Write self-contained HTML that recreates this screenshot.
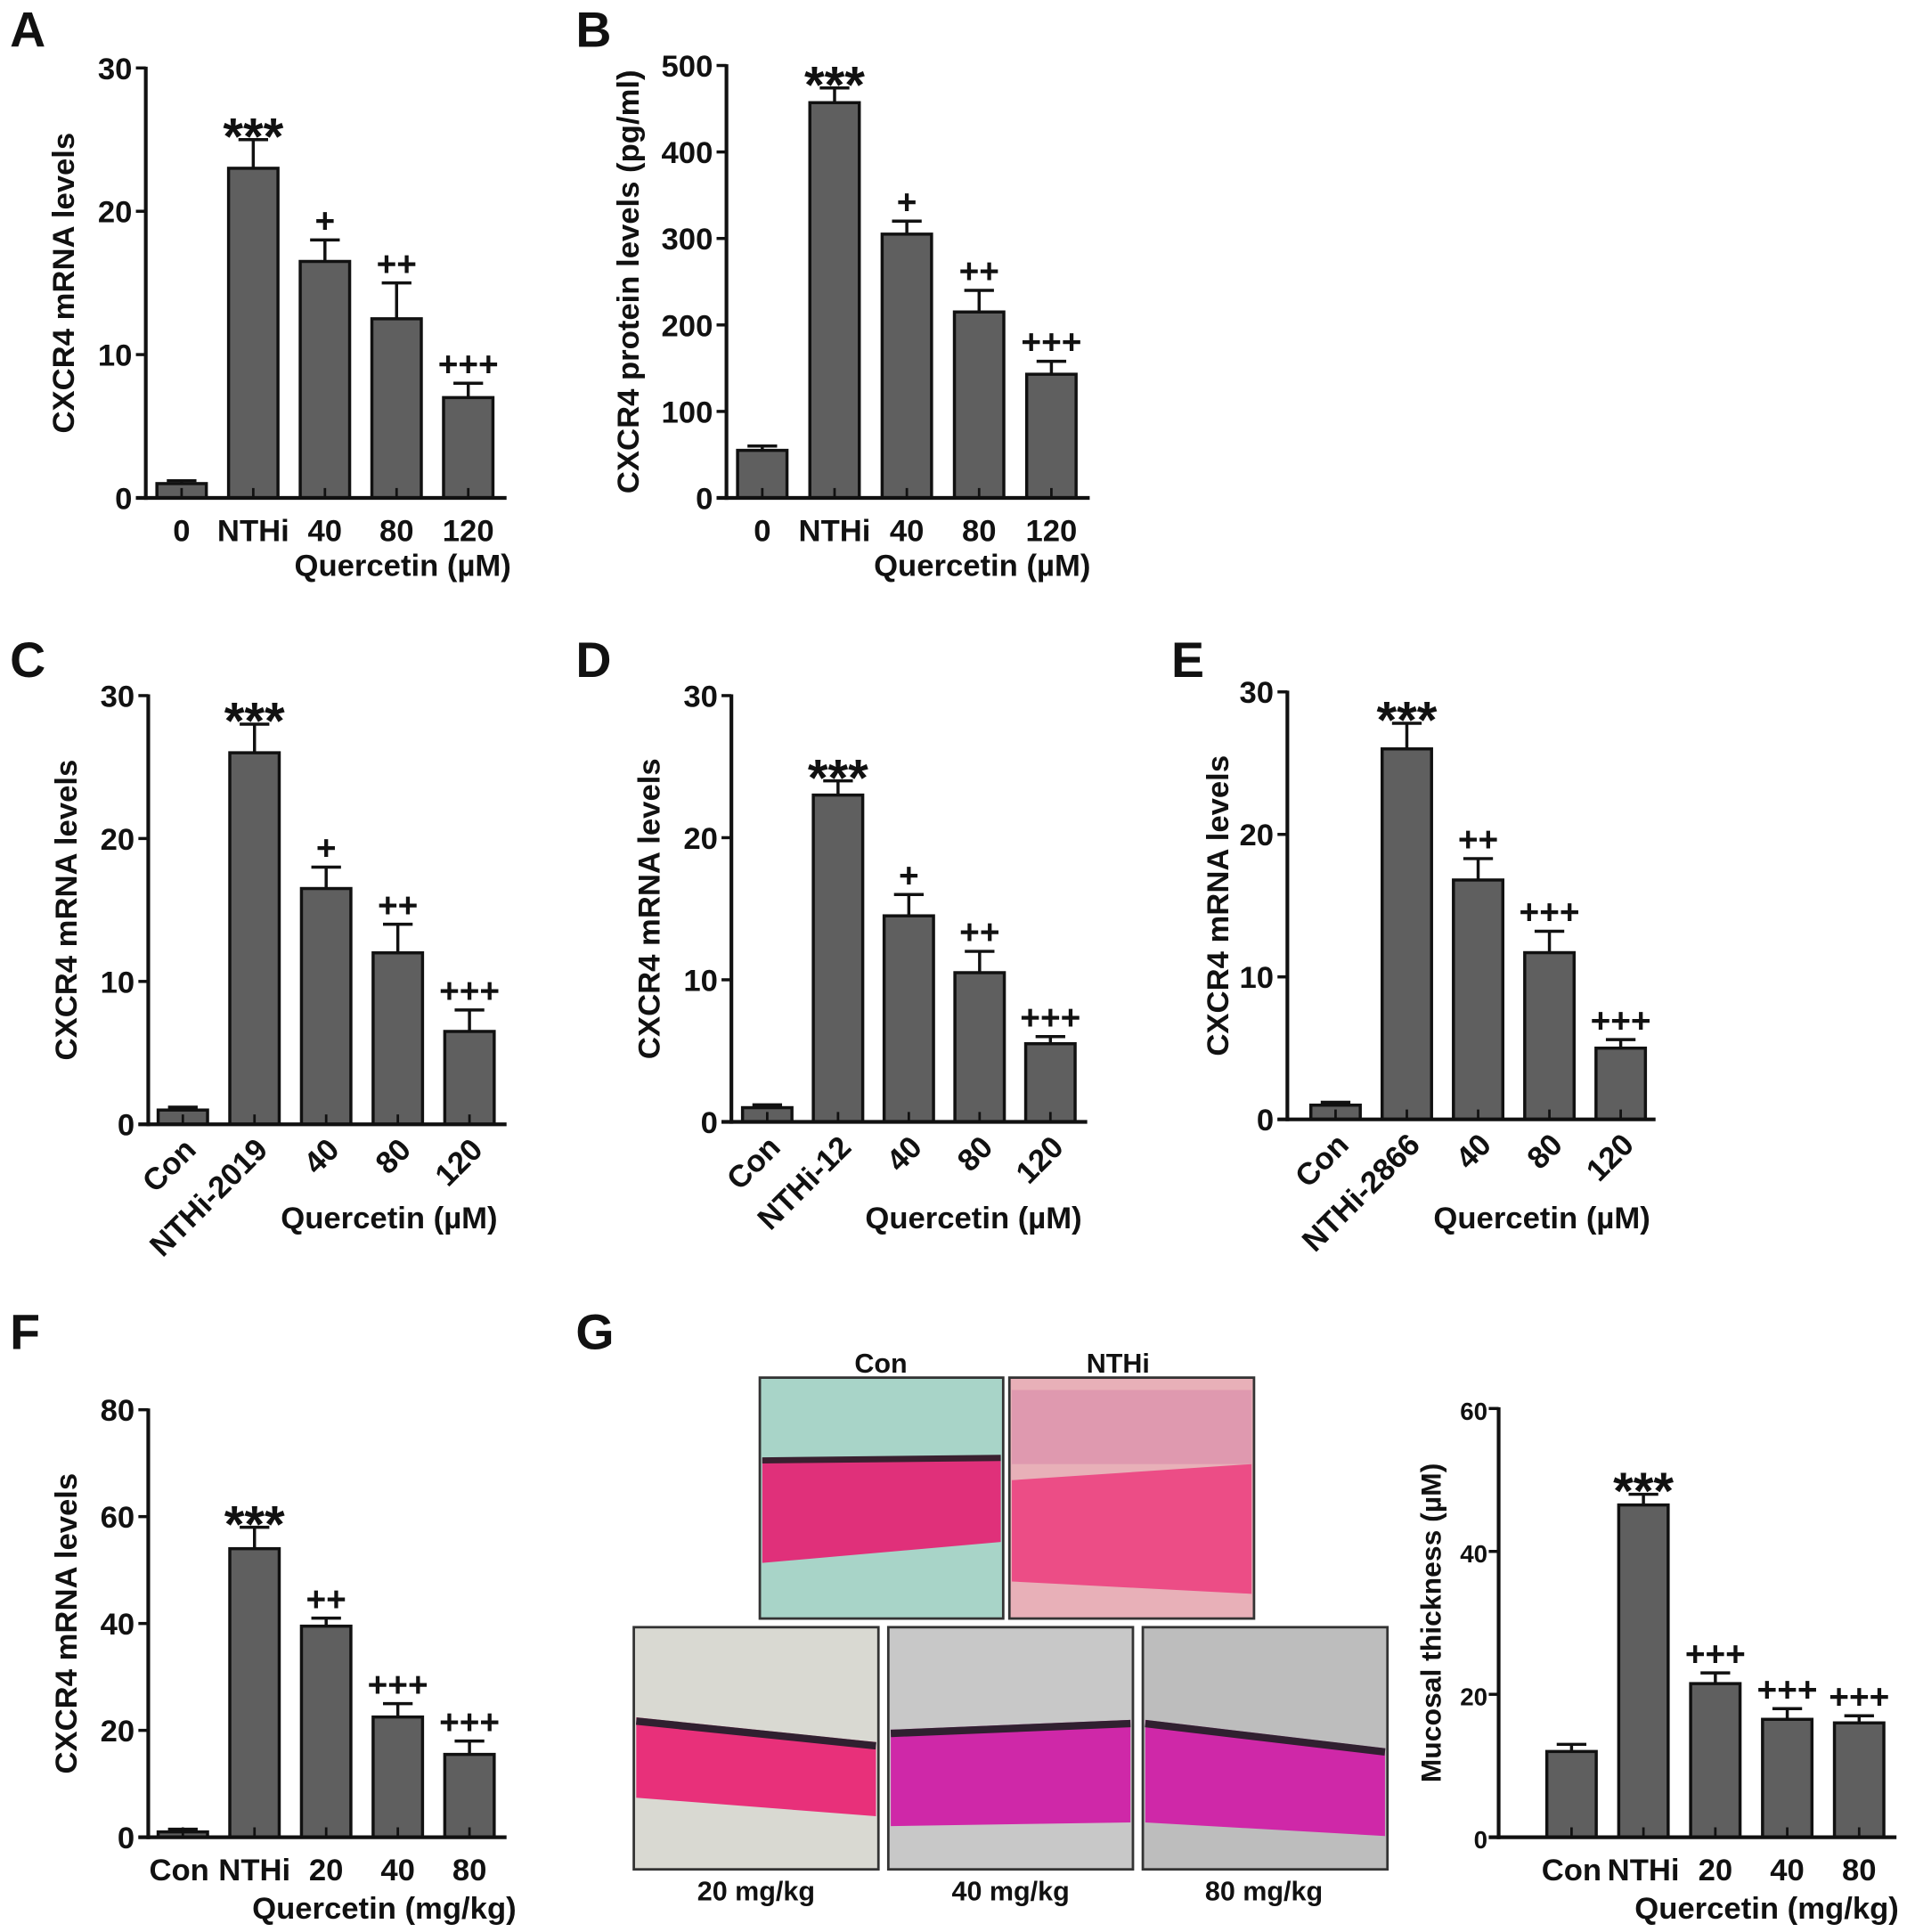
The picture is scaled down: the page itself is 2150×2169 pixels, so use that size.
<!DOCTYPE html>
<html><head><meta charset="utf-8"><style>
html,body{margin:0;padding:0;background:#fff}
svg{display:block}
text{font-family:"Liberation Sans",Arial,sans-serif;font-weight:bold;fill:#111}
</style></head><body>
<svg id="fig" xmlns="http://www.w3.org/2000/svg" width="2150" height="2169" viewBox="0 0 1550 1563.7" preserveAspectRatio="none">
<rect width="1550" height="1563.7" fill="#fff"/>
<g id="micro">
 <text x="713" y="1111" font-size="22" text-anchor="middle">Con</text>
 <text x="905" y="1111" font-size="22" text-anchor="middle">NTHi</text>
 <g>
  <rect x="615" y="1115" width="197" height="195" fill="#a8d4c8" stroke="#333" stroke-width="2"/>
  <polygon points="617,1180 810,1178 810,1248 617,1265" fill="#e0307a"/>
  <polyline points="617,1182 810,1180" stroke="#3a2030" stroke-width="5" fill="none"/>
 </g>
 <g>
  <rect x="817" y="1115" width="198" height="195" fill="#e8b0b8" stroke="#333" stroke-width="2"/>
  <polygon points="819,1198 1013,1185 1013,1290 819,1280" fill="#ec4d86"/>
  <rect x="819" y="1125" width="194" height="60" fill="#d88aa8" opacity="0.6"/>
 </g>
 <g>
  <rect x="513" y="1317" width="198" height="196" fill="#d9d9d2" stroke="#333" stroke-width="2"/>
  <polygon points="515,1390 709,1410 709,1470 515,1455" fill="#e8307a"/>
  <polyline points="515,1393 709,1413" stroke="#302030" stroke-width="6" fill="none"/>
 </g>
 <g>
  <rect x="719" y="1317" width="198" height="196" fill="#c8c8c8" stroke="#333" stroke-width="2"/>
  <polygon points="721,1400 915,1392 915,1475 721,1478" fill="#cf28a8"/>
  <polyline points="721,1403 915,1395" stroke="#302030" stroke-width="6" fill="none"/>
 </g>
 <g>
  <rect x="925" y="1317" width="198" height="196" fill="#bdbdbd" stroke="#333" stroke-width="2"/>
  <polygon points="927,1392 1121,1415 1121,1486 927,1475" fill="#cf28a8"/>
  <polyline points="927,1395 1121,1418" stroke="#302030" stroke-width="6" fill="none"/>
 </g>
 <text x="612" y="1538" font-size="22" text-anchor="middle">20 mg/kg</text>
 <text x="818" y="1538" font-size="22" text-anchor="middle">40 mg/kg</text>
 <text x="1023" y="1538" font-size="22" text-anchor="middle">80 mg/kg</text>
</g>
</svg>
<script>
const NS='http://www.w3.org/2000/svg';
const svg=document.getElementById('fig');
// Panel A
const catsA=['0','NTHi','40','80','120'];
const valsA=[1,23,16.5,12.5,7];
const errsA=[0.2,2,1.5,2.5,1];
const sigA=['','***','+','++','+++'];
const ticksA=[0,10,20,30];
// Panel B
const catsB=['0','NTHi','40','80','120'];
const valsB=[55,457,305,215,143];
const errsB=[5,17,15,25,15];
const sigB=['','***','+','++','+++'];
const ticksB=[0,100,200,300,400,500];
// Panel C
const catsC=['Con','NTHi-2019','40','80','120'];
const valsC=[1,26,16.5,12,6.5];
const errsC=[0.2,2,1.5,2,1.5];
const sigC=['','***','+','++','+++'];
const ticksC=[0,10,20,30];
// Panel D
const catsD=['Con','NTHi-12','40','80','120'];
const valsD=[1,23,14.5,10.5,5.5];
const errsD=[0.2,1,1.5,1.5,0.5];
const sigD=['','***','+','++','+++'];
const ticksD=[0,10,20,30];
// Panel E
const catsE=['Con','NTHi-2866','40','80','120'];
const valsE=[1,26,16.8,11.7,5];
const errsE=[0.2,1.8,1.5,1.5,0.6];
const sigE=['','***','++','+++','+++'];
const ticksE=[0,10,20,30];
// Panel F
const catsF=['Con','NTHi','20','40','80'];
const valsF=[1,54,39.5,22.5,15.5];
const errsF=[0.5,4,1.5,2.5,2.5];
const sigF=['','***','++','+++','+++'];
const ticksF=[0,20,40,60,80];
// Panel G
const catsG=['Con','NTHi','20','40','80'];
const valsG=[12,46.5,21.5,16.5,16];
const errsG=[1,1.5,1.5,1.5,1];
const sigG=['','***','+++','+++','+++'];
const ticksG=[0,20,40,60];

function el(tag,attrs,parent,txt){const e=document.createElementNS(NS,tag);for(const k in attrs)e.setAttribute(k,attrs[k]);if(txt!==undefined)e.textContent=txt;(parent||svg).appendChild(e);return e;}

function panel(o){
  const g=el('g',{});
  
  
  const ymax=o.ticks[o.ticks.length-1];
  const y=v=>o.y0-(o.y0-o.y1)*v/ymax;
  const n=o.cats.length;
  const x=i=>o.xc0+i*o.step;
  const bw=o.bw||40;
  const fs=o.fs||25;
  const L=el('text',{x:o.lx,y:o.ly,'font-size':40},g,o.id);
  
  
  for(let i=0;i<n;i++){
    const top=y(o.vals[i]+o.errs[i]);
    const eb=el('g',{},g);
    
    
    el('line',{x1:x(i),x2:x(i),y1:y(o.vals[i]),y2:top,stroke:'#111','stroke-width':2.5},eb);
    el('line',{x1:x(i)-bw*0.3,x2:x(i)+bw*0.3,y1:top,y2:top,stroke:'#111','stroke-width':2.5},eb);
    const b=el('rect',{x:x(i)-bw/2,y:y(o.vals[i]),width:bw,height:o.y0-y(o.vals[i]),fill:'#5f5f5f',stroke:'#111','stroke-width':2.5},g);
    
    
    el('line',{x1:x(i),x2:x(i),y1:o.y0,y2:o.y0-8,stroke:'#111','stroke-width':2},g);
    if(o.sig[i]){
      const star=o.sig[i][0]==='*';
      const s=el('text',{x:x(i),y:top-(star?-12:6),'font-size':star?42:28,'text-anchor':'middle','font-weight':star?'bold':'normal'},g,o.sig[i]);
      
      
    }
  }
  const ya=el('line',{x1:o.ax,x2:o.ax,y1:o.y1-1,y2:o.y0+1.5,stroke:'#111','stroke-width':3},g);
  
  
  const xa=el('line',{x1:o.ax-8,x2:o.xend,y1:o.y0,y2:o.y0,stroke:'#111','stroke-width':3},g);
  
  
  o.ticks.forEach(t=>{
    el('line',{x1:o.ax-8,x2:o.ax,y1:y(t),y2:y(t),stroke:'#111','stroke-width':2.5},g);
    const tl=el('text',{x:o.ax-(o.tgap||11),y:y(t)+9,'font-size':o.tfs||fs,'text-anchor':'end'},g,String(t));
    
    
  });
  for(let i=0;i<n;i++){
    let t;
    if(o.rot){
      t=el('text',{x:x(i)+12,y:o.y0+22,'font-size':fs,'text-anchor':'end',transform:`rotate(-45 ${x(i)+12} ${o.y0+22})`},g,o.cats[i]);
    } else {
      t=el('text',{x:x(i)+(o.xoff?o.xoff[i]:0),y:o.y0+35,'font-size':fs,'text-anchor':'middle'},g,o.cats[i]);
    }
    
    
  }
  const xt=el('text',{x:o.xtx,y:o.xty,'font-size':fs,'text-anchor':'middle'},g,o.xt);
  
  
  const ym=(o.y0+o.y1)/2;
  const yt=el('text',{x:o.ytx,y:ym,'font-size':o.yfs||fs,'text-anchor':'middle',transform:`rotate(-90 ${o.ytx} ${ym})`},g,o.yt);
  
  
}
const Q='Quercetin (\u00b5M)', QK='Quercetin (mg/kg)', M='CXCR4 mRNA levels';
panel({id:'A',cats:catsA,vals:valsA,errs:errsA,sig:sigA,ticks:ticksA,ax:118,y0:403,y1:55,xend:410,xc0:147,step:58,lx:8,ly:38,xt:Q,xtx:326,xty:466,yt:M,ytx:60});
panel({id:'B',cats:catsB,vals:valsB,errs:errsB,sig:sigB,ticks:ticksB,ax:588,y0:403,y1:53,xend:882,xc0:617,step:58.5,lx:466,ly:38,xt:Q,xtx:795,xty:466,yt:'CXCR4 protein levels (pg/ml)',ytx:517});
panel({id:'C',cats:catsC,vals:valsC,errs:errsC,sig:sigC,ticks:ticksC,ax:120,y0:910,y1:563,xend:410,xc0:148,step:58,lx:8,ly:548,xt:Q,xtx:315,xty:994,yt:M,ytx:62,rot:true});
panel({id:'D',cats:catsD,vals:valsD,errs:errsD,sig:sigD,ticks:ticksD,ax:592,y0:908,y1:563,xend:880,xc0:621,step:57.3,lx:466,ly:548,xt:Q,xtx:788,xty:994,yt:M,ytx:534,rot:true});
panel({id:'E',cats:catsE,vals:valsE,errs:errsE,sig:sigE,ticks:ticksE,ax:1042,y0:906,y1:560,xend:1340,xc0:1081,step:57.7,lx:948,ly:548,xt:Q,xtx:1248,xty:994,yt:M,ytx:994,rot:true});
panel({id:'F',cats:catsF,vals:valsF,errs:errsF,sig:sigF,ticks:ticksF,ax:120,y0:1487,y1:1141,xend:410,xc0:148,step:58,lx:8,ly:1092,xt:QK,xtx:311,xty:1553,yt:M,ytx:62,xoff:[-3,0,0,0,0]});
panel({id:'G',cats:catsG,vals:valsG,errs:errsG,sig:sigG,ticks:ticksG,ax:1213,y0:1487,y1:1140,xend:1535,xc0:1272,step:58.2,lx:466,ly:1092,xt:QK,xtx:1430,xty:1553,yt:'Mucosal thickness (\u00b5M)',ytx:1166,tfs:20,tgap:9,yfs:23});
</script>
</body></html>
